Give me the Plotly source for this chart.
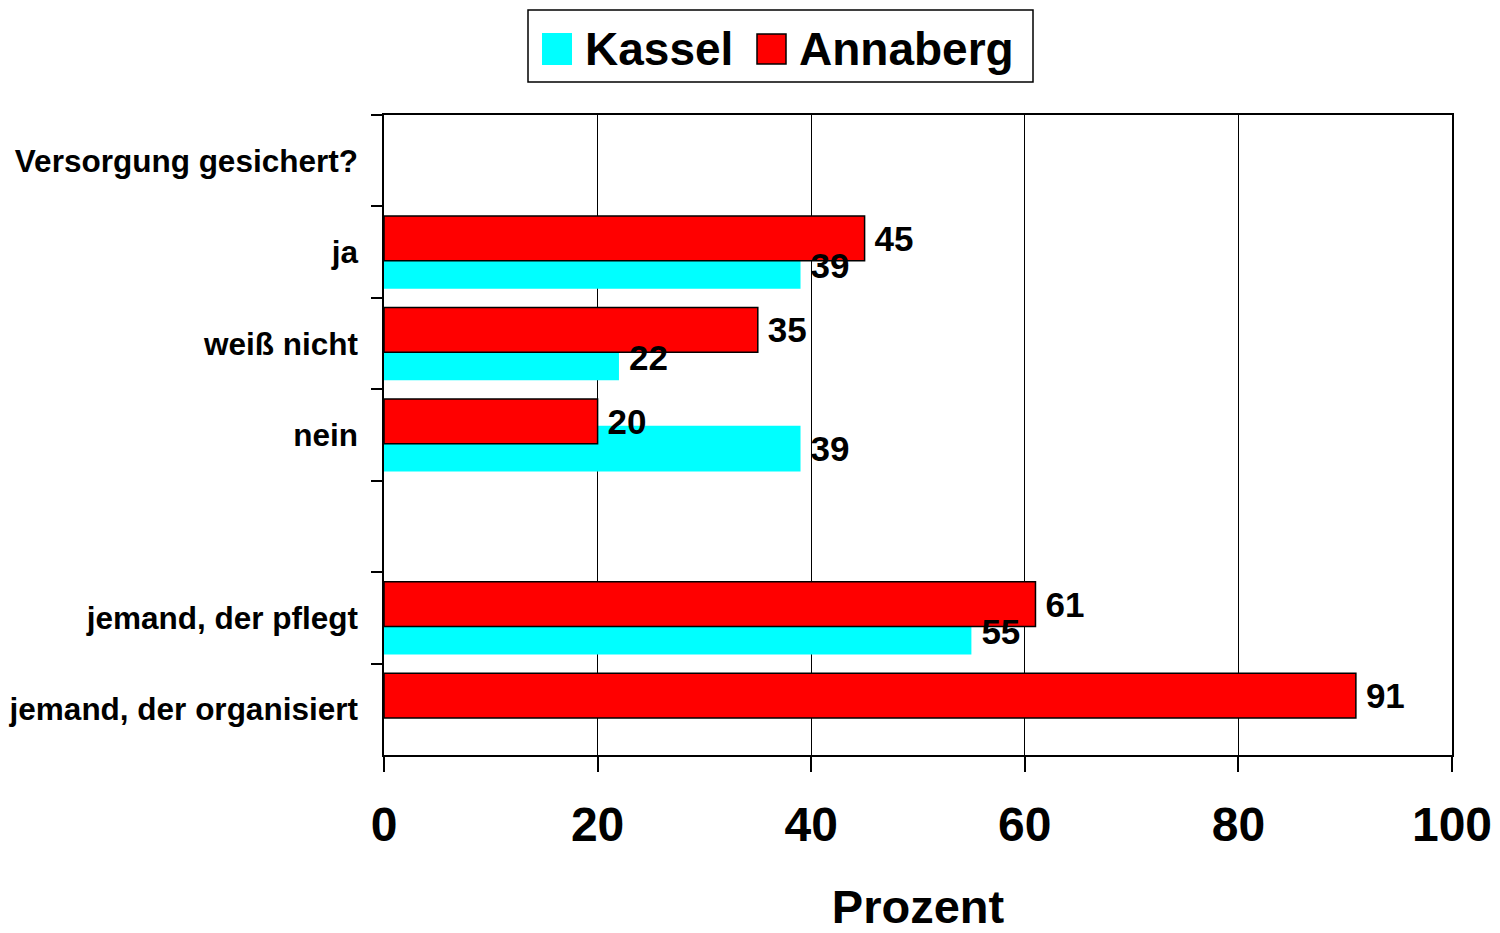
import plotly.graph_objects as go

# ---- data ----
categories = ["Versorgung gesichert?", "ja", "weiß nicht", "nein", " ",
              "jemand, der pflegt", "jemand, der organisiert"]
kassel = [None, 39, 22, 39, None, 55, None]
annaberg = [None, 45, 35, 20, None, 61, 91]
series_names = ["Kassel", "Annaberg"]
series_colors = ["#00FFFF", "#FF0000"]
x_ticks = [0, 20, 40, 60, 80, 100]
x_title = "Prozent"

FONT = "Liberation Sans, Arial, sans-serif"
W, H = 1500, 933
L, R, T, B = 384, 48, 115, 178


def px(x):
    return (x - L) / (W - L - R)


def py(y):
    return (H - B - y) / (H - T - B)


label_font = dict(family=FONT, size=35, color="black", weight="bold")
K_OFF, K_W = -0.10, 0.50
A_OFF, A_W = -0.395, 0.49

fig = go.Figure()
# Kassel bars (drawn first, underneath)
fig.add_trace(go.Bar(
    y=categories, x=kassel, orientation="h", name=series_names[0],
    marker=dict(color=series_colors[0], line=dict(width=0)),
    offset=K_OFF, width=K_W, showlegend=False, hoverinfo="skip",
))
# Annaberg bars on top, with labels
fig.add_trace(go.Bar(
    y=categories, x=annaberg, orientation="h", name=series_names[1],
    marker=dict(color=series_colors[1], line=dict(width=1.5, color="black")),
    offset=A_OFF, width=A_W,
    texttemplate="\u2009%{x}", textposition="outside",
    textfont=label_font, cliponaxis=False, constraintext="none",
    showlegend=False,
))
# Kassel labels drawn above everything (transparent copy of the Kassel bars)
fig.add_trace(go.Bar(
    y=categories, x=kassel, orientation="h", name=series_names[0],
    marker=dict(color="rgba(0,0,0,0)", line=dict(width=0)),
    offset=K_OFF, width=K_W,
    texttemplate="\u2009%{x}", textposition="outside",
    textfont=label_font, cliponaxis=False, constraintext="none",
    showlegend=False,
))

# ---- legend (large squares like the original) ----
shapes = [
    dict(type="rect", xref="paper", yref="paper",
         x0=px(528), x1=px(1033), y0=py(82), y1=py(10),
         line=dict(color="black", width=1.5), fillcolor="white", layer="above"),
    dict(type="rect", xref="paper", yref="paper",
         x0=px(542), x1=px(572), y0=py(65), y1=py(33),
         line=dict(width=0), fillcolor=series_colors[0], layer="above"),
    dict(type="rect", xref="paper", yref="paper",
         x0=px(757), x1=px(786), y0=py(64), y1=py(34),
         line=dict(color="black", width=1.5), fillcolor=series_colors[1], layer="above"),
]
annotations = [
    dict(xref="paper", yref="paper", x=px(583), y=py(49), text=series_names[0],
         showarrow=False, xanchor="left", yanchor="middle",
         font=dict(family=FONT, size=46, color="black", weight="bold")),
    dict(xref="paper", yref="paper", x=px(797), y=py(49), text=series_names[1],
         showarrow=False, xanchor="left", yanchor="middle",
         font=dict(family=FONT, size=46, color="black", weight="bold")),
]

fig.update_layout(
    width=W, height=H,
    margin=dict(l=L, r=R, t=T, b=B, pad=0, autoexpand=False),
    paper_bgcolor="white", plot_bgcolor="white",
    barmode="overlay",
    showlegend=False,
    shapes=shapes,
    annotations=annotations,
    font=dict(family=FONT, color="black"),
    xaxis=dict(
        range=[0, 100], tickvals=x_ticks, ticks="outside", ticklen=15,
        tickwidth=1.5, tickcolor="black",
        showgrid=True, gridcolor="black", gridwidth=1,
        showline=True, linecolor="black", linewidth=1.5, mirror=True,
        zeroline=False, automargin=False, ticklabelstandoff=12,
        tickfont=dict(family=FONT, size=48, color="black", weight="bold"),
        title=dict(text=x_title, standoff=48,
                   font=dict(family=FONT, size=47, color="black", weight="bold")),
    ),
    yaxis=dict(
        type="category", categoryorder="array", categoryarray=categories,
        range=[len(categories) - 0.5, -0.5],
        tickson="boundaries", ticks="outside", ticklen=11,
        tickwidth=1.5, tickcolor="black",
        showgrid=False, zeroline=False, automargin=False,
        showline=True, linecolor="black", linewidth=1.5, mirror=True,
        ticklabelstandoff=18,
        tickfont=dict(family=FONT, size=31.5, color="black", weight="bold"),
    ),
)

fig.write_html("out.html", config={"displayModeBar": False},
               post_script="document.body.style.margin='0px';")
